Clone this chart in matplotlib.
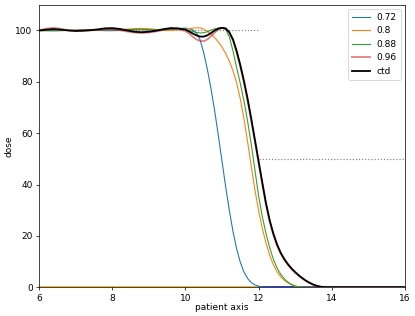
import numpy as np
import matplotlib
matplotlib.use('Agg')
import matplotlib.pyplot as plt

# sample positions along the patient axis
x = [6.0, 6.2, 6.4, 6.6, 6.8, 7.0, 7.2, 7.4, 7.6, 7.8,
     8.0, 8.2, 8.4, 8.6, 8.8, 9.0, 9.2, 9.4, 9.6, 9.8,
     10.0, 10.1, 10.2, 10.3, 10.4, 10.5, 10.6, 10.7, 10.8, 10.9,
     11.0, 11.1, 11.2, 11.3, 11.4, 11.5, 11.6, 11.7, 11.8, 11.9,
     12.0, 12.1, 12.2, 12.3, 12.4, 12.5, 12.6, 12.7, 12.8, 12.9,
     13.0, 13.1, 13.2, 13.3, 13.4, 13.5, 13.6, 13.7, 13.8, 13.9,
     14.0, 16.0]

dose_072 = [100.0, 99.9, 99.8, 99.9, 100.0, 100.1, 100.2, 100.1, 100.0, 99.9,
            99.9, 100.0, 100.1, 100.2, 100.3, 100.2, 100.1, 100.2, 100.4, 100.7,
            100.9, 100.7, 100.2, 99.0, 96.4, 91.3, 84.8, 77.2, 68.6, 59.0,
            49.0, 39.1, 29.9, 21.7, 14.9, 9.7, 5.9, 3.4, 1.8, 0.9,
            0.4, 0.15, 0.05, 0.0, 0.0, 0.0, 0.0, 0.0, 0.0, 0.0,
            0.0, 0.0, 0.0, 0.0, 0.0, 0.0, 0.0, 0.0, 0.0, 0.0,
            0.0, 0.0]

dose_080 = [99.8, 99.9, 100.0, 100.0, 100.0, 100.1, 100.2, 100.2, 100.2, 100.3,
            100.3, 100.4, 100.5, 100.7, 100.8, 100.7, 100.4, 100.0, 100.0, 100.2,
            100.5, 100.7, 100.9, 101.0, 101.0, 100.5, 99.6, 98.6, 97.2, 95.5,
            93.5, 91.0, 88.0, 84.3, 79.5, 73.3, 65.5, 56.5, 47.0, 37.8,
            29.8, 23.0, 17.3, 12.6, 8.9, 6.1, 4.1, 2.7, 1.7, 0.9,
            0.4, 0.1, 0.0, 0.0, 0.0, 0.0, 0.0, 0.0, 0.0, 0.0,
            0.0, 0.0]

dose_088 = [99.9, 100.0, 100.1, 100.1, 100.0, 100.0, 100.1, 100.2, 100.2, 100.3,
            100.3, 100.3, 100.3, 100.4, 100.4, 100.3, 100.2, 100.2, 100.5, 100.6,
            100.3, 100.0, 99.6, 99.2, 99.0, 99.1, 99.5, 100.1, 100.6, 100.9,
            101.0, 100.3, 97.5, 92.0, 85.5, 79.3, 72.5, 64.5, 55.5, 45.5,
            35.5, 27.5, 21.0, 15.5, 11.0, 7.6, 5.1, 3.3, 2.0, 1.1,
            0.5, 0.15, 0.0, 0.0, 0.0, 0.0, 0.0, 0.0, 0.0, 0.0,
            0.0, 0.0]

dose_096 = [100.0, 100.7, 101.0, 100.6, 100.0, 99.7, 99.8, 100.0, 100.2, 100.4,
            100.4, 100.1, 99.6, 99.2, 99.0, 99.2, 99.6, 100.2, 100.7, 100.6,
            99.8, 98.8, 97.6, 96.5, 95.9, 95.8, 96.5, 97.8, 99.2, 100.4,
            101.0, 100.6, 99.0, 96.0, 91.3, 85.8, 79.6, 72.6, 64.8, 56.6,
            48.3, 40.1, 32.2, 25.7, 20.5, 16.4, 13.2, 10.7, 8.7, 7.0,
            5.6, 4.4, 3.3, 2.4, 1.6, 0.9, 0.45, 0.15, 0.0, 0.0,
            0.0, 0.0]

dose_ctd = [100.0, 100.3, 100.5, 100.3, 100.0, 99.8, 99.9, 100.1, 100.4, 100.8,
            100.9, 100.6, 100.0, 99.5, 99.3, 99.5, 99.9, 100.5, 100.9, 100.8,
            100.3, 99.6, 98.8, 98.1, 97.6, 97.6, 98.1, 99.0, 100.0, 100.7,
            101.0, 100.8, 99.3, 96.5, 92.0, 86.5, 80.3, 73.3, 65.5, 57.3,
            49.0, 40.8, 32.8, 26.2, 21.0, 16.8, 13.5, 11.0, 9.0, 7.3,
            5.9, 4.6, 3.5, 2.5, 1.7, 1.0, 0.5, 0.2, 0.05, 0.0,
            0.0, 0.0]

labels = ['0.72', '0.8', '0.88', '0.96']

# prescription levels
target_x = [6, 12]
target_y = [100, 100]
half_x = [12, 16]
half_y = [50, 50]

fig = plt.figure(figsize=(415 / 65, 316 / 65), dpi=65)
ax = fig.add_subplot(111)
fig.subplots_adjust(left=0.094, right=0.976, bottom=0.091, top=0.985)

ax.plot(target_x, target_y, color='gray', linestyle=':', linewidth=1.3)
ax.plot(half_x, half_y, color='gray', linestyle=':', linewidth=1.3)
ax.plot(target_x, [0, 0], color='orange', linewidth=3)
ax.plot(half_x, [0, 0], color='blue', linewidth=3)

ax.plot(x, dose_072, color='tab:blue', linewidth=1.2, label=labels[0])
ax.plot(x, dose_080, color='tab:orange', linewidth=1.2, label=labels[1])
ax.plot(x, dose_088, color='tab:green', linewidth=1.2, label=labels[2])
ax.plot(x, dose_096, color='tab:red', linewidth=2, alpha=0.6, label=labels[3])
ax.plot(x, dose_ctd, color='black', linewidth=2, label='ctd')

ax.set_xlim(6, 16)
ax.set_ylim(0, 110)
ax.set_xlabel('patient axis', labelpad=1)
ax.set_ylabel('dose', labelpad=2)
ax.legend(loc='upper right')

fig.savefig('out.png', dpi=65)
